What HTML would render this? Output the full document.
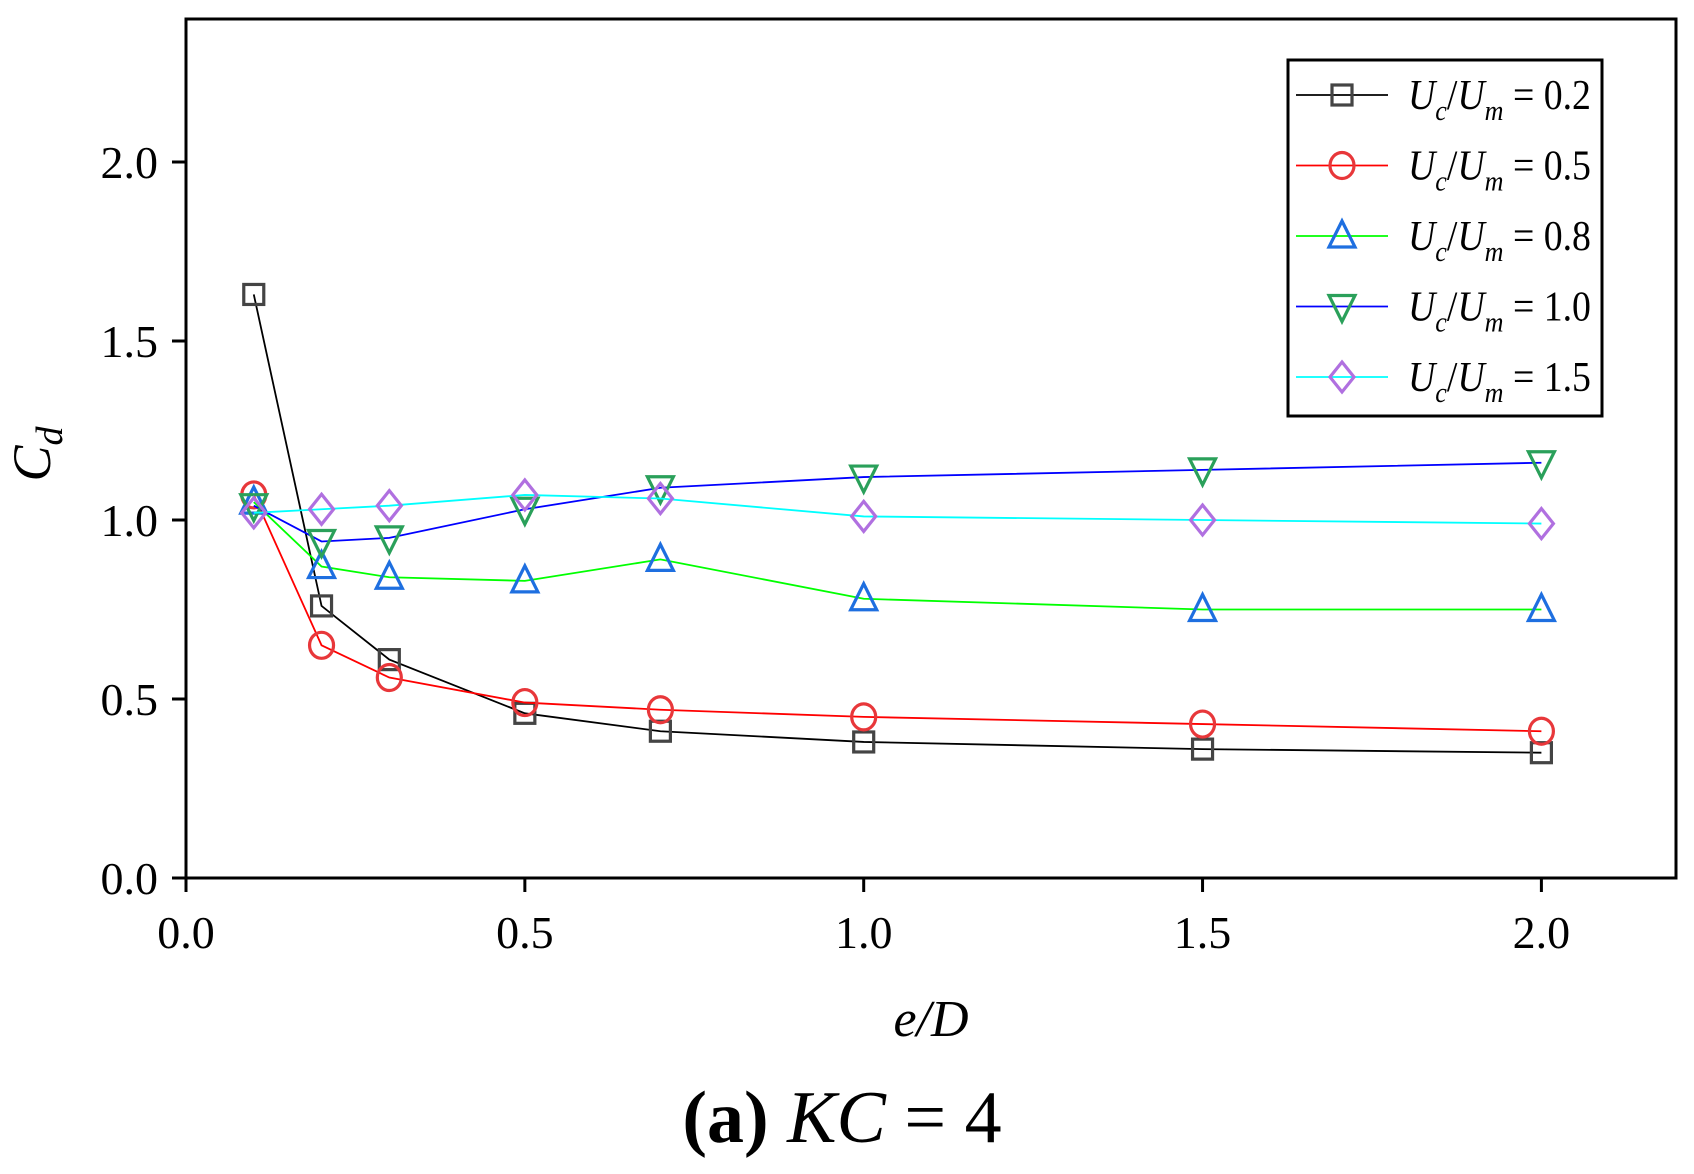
<!DOCTYPE html>
<html><head><meta charset="utf-8"><style>
html,body{margin:0;padding:0;background:#fff}
svg{display:block;font-family:"Liberation Serif",serif}
</style></head><body>
<svg id="chart" width="1694" height="1174" viewBox="0 0 1694 1174">
<rect x="186" y="19" width="1490" height="859" fill="none" stroke="#000" stroke-width="3"/>
<g id="axes"></g>
<g id="series"></g>
<g id="legend"></g>
<text x="50" y="454" font-size="54" font-style="italic" text-anchor="middle" transform="rotate(-90 50 454)">C<tspan font-size="38" dy="12">d</tspan></text>
<text x="931" y="1036" font-size="52" font-style="italic" text-anchor="middle">e/D</text>
<text x="842" y="1142" font-size="74" text-anchor="middle"><tspan font-weight="bold">(a)</tspan> <tspan font-style="italic">KC</tspan> = 4</text>
</svg>
<script>
const xValues=[0.1,0.2,0.3,0.5,0.7,1.0,1.5,2.0];
const s02=[1.63,0.76,0.61,0.46,0.41,0.38,0.36,0.35];
const s05=[1.07,0.65,0.56,0.49,0.47,0.45,0.43,0.41];
const s08=[1.05,0.87,0.84,0.83,0.89,0.78,0.75,0.75];
const s10=[1.04,0.94,0.95,1.03,1.09,1.12,1.14,1.16];
const s15=[1.02,1.03,1.04,1.07,1.06,1.01,1.00,0.99];
const seriesLabels=["0.2","0.5","0.8","1.0","1.5"];
const xTicks=[0,0.5,1.0,1.5,2.0];
const yTicks=[0,0.5,1.0,1.5,2.0];
const NS="http://www.w3.org/2000/svg";
const X=v=>186+v*677.7, Y=v=>878-v*358;
function mk(t,a,p){const e=document.createElementNS(NS,t);for(const k in a)e.setAttribute(k,a[k]);p.appendChild(e);return e;}
const axes=document.getElementById('axes');
xTicks.forEach(t=>{const l=mk('line',{x1:X(t),x2:X(t),y1:878,y2:892,stroke:'#000','stroke-width':3},axes);


const tx=mk('text',{x:X(t),y:948,'font-size':46,'text-anchor':'middle'},axes);tx.textContent=t.toFixed(1);

});
yTicks.forEach(t=>{const l=mk('line',{x1:172,x2:186,y1:Y(t),y2:Y(t),stroke:'#000','stroke-width':3},axes);


const tx=mk('text',{x:158,y:Y(t)+16,'font-size':46,'text-anchor':'end'},axes);tx.textContent=t.toFixed(1);

});
function marker(type,cx,cy,col,p){let e;
if(type==='sq')e=mk('rect',{x:cx-10,y:cy-10,width:20,height:20},p);
else if(type==='ci')e=mk('ellipse',{cx:cx,cy:cy,rx:12,ry:13},p);
else if(type==='up')e=mk('polygon',{points:`${cx},${cy-15} ${cx-13},${cy+11} ${cx+13},${cy+11}`},p);
else if(type==='dn')e=mk('polygon',{points:`${cx},${cy+15} ${cx-13},${cy-11} ${cx+13},${cy-11}`},p);
else e=mk('polygon',{points:`${cx},${cy-15} ${cx+12},${cy} ${cx},${cy+15} ${cx-12},${cy}`},p);
e.setAttribute('fill','none');e.setAttribute('stroke',col);e.setAttribute('stroke-width',3.2);return e;}
const defs=[[s02,'#000','#444','sq'],[s05,'#f00','#e8373a','ci'],[s08,'#0f0','#1e6fe0','up'],[s10,'#00f','#2aa05a','dn'],[s15,'#0ff','#b070e0','di']];
const sg=document.getElementById('series');
defs.forEach((d,i)=>{const g=mk('g',{},sg);


const pl=mk('polyline',{points:xValues.map((x,j)=>X(x)+','+Y(d[0][j])).join(' '),fill:'none',stroke:d[1],'stroke-width':1.8},g);


xValues.forEach((x,j)=>{const m=marker(d[3],X(x),Y(d[0][j]),d[2],g);

});});
const lg=document.getElementById('legend');
mk('rect',{x:1288,y:60,width:314,height:356,fill:'#fff',stroke:'#000','stroke-width':3},lg);
defs.forEach((d,i)=>{const y=95+i*70.5;const g=mk('g',{},lg);


mk('line',{x1:1296,x2:1388,y1:y,y2:y,stroke:d[1],'stroke-width':1.8},g);
marker(d[3],1342,y,d[2],g);
const t=mk('text',{x:1408,y:y+14,'font-size':42,transform:'translate(1408,0) scale(0.9,1) translate(-1408,0)'},g);
t.innerHTML='<tspan font-style="italic">U</tspan><tspan font-style="italic" font-size="29" dy="11">c</tspan><tspan dy="-11">/</tspan><tspan font-style="italic">U</tspan><tspan font-style="italic" font-size="29" dy="11">m</tspan><tspan dy="-11"> = '+seriesLabels[i]+'</tspan>';});
</script>
</body></html>
